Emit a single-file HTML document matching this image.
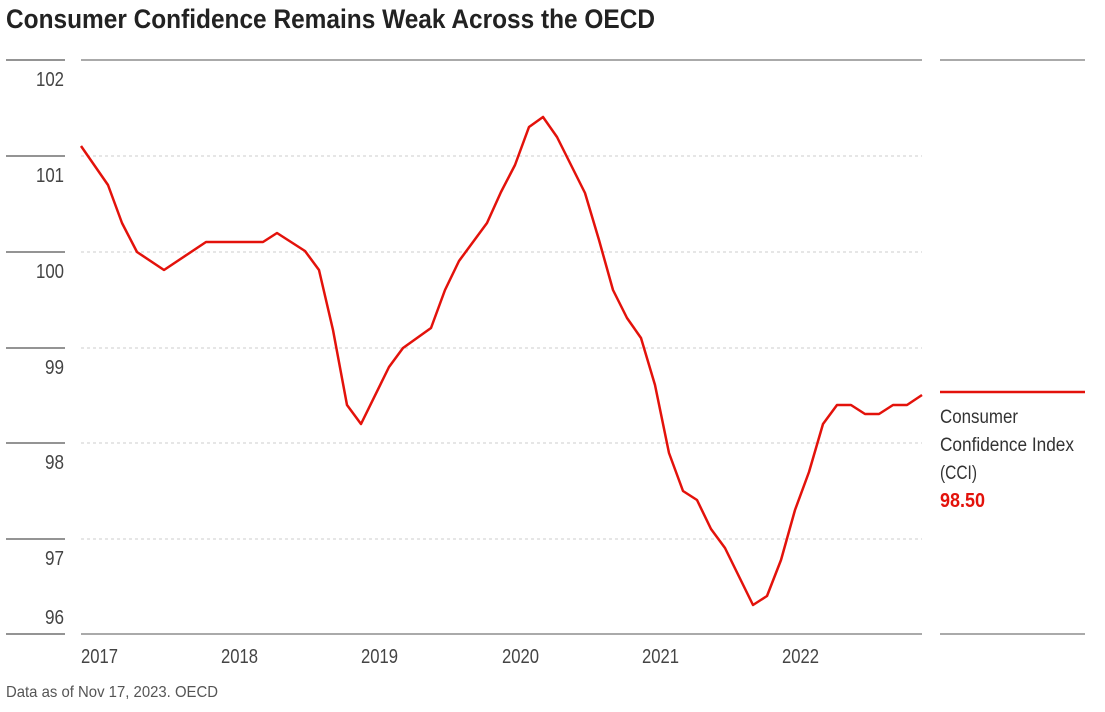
<!DOCTYPE html>
<html><head><meta charset="utf-8"><style>
body{margin:0;width:1105px;height:707px;background:#fff;overflow:hidden;font-family:"Liberation Sans",sans-serif;color:#333}
svg text{font-family:"Liberation Sans",sans-serif}
</style></head><body>
<svg width="1105" height="707" viewBox="0 0 1105 707">
<text x="6" y="28" font-size="27" font-weight="bold" fill="#222" textLength="649" lengthAdjust="spacingAndGlyphs">Consumer Confidence Remains Weak Across the OECD</text>
<g stroke="#555" stroke-width="1.2">
<line x1="6" y1="60" x2="65" y2="60"/><line x1="6" y1="156" x2="65" y2="156"/><line x1="6" y1="252" x2="65" y2="252"/>
<line x1="6" y1="348" x2="65" y2="348"/><line x1="6" y1="443" x2="65" y2="443"/><line x1="6" y1="539" x2="65" y2="539"/><line x1="6" y1="634" x2="65" y2="634"/>
<line x1="81" y1="60" x2="922" y2="60" stroke="#777"/><line x1="81" y1="634" x2="922" y2="634" stroke="#777"/>
<line x1="940" y1="60" x2="1085" y2="60" stroke="#777"/><line x1="940" y1="634" x2="1085" y2="634" stroke="#777"/>
</g>
<g stroke="#ccc" stroke-width="1" stroke-dasharray="3,3">
<line x1="81" y1="156" x2="922" y2="156"/><line x1="81" y1="252" x2="922" y2="252"/><line x1="81" y1="348" x2="922" y2="348"/><line x1="81" y1="443" x2="922" y2="443"/><line x1="81" y1="539" x2="922" y2="539"/>
</g>
<g font-size="20" fill="#444" text-anchor="end">
<text x="64" y="86" textLength="28" lengthAdjust="spacingAndGlyphs">102</text><text x="64" y="182" textLength="28" lengthAdjust="spacingAndGlyphs">101</text><text x="64" y="278" textLength="28" lengthAdjust="spacingAndGlyphs">100</text><text x="64" y="374" textLength="19" lengthAdjust="spacingAndGlyphs">99</text><text x="64" y="469" textLength="19" lengthAdjust="spacingAndGlyphs">98</text><text x="64" y="565" textLength="19" lengthAdjust="spacingAndGlyphs">97</text><text x="64" y="624" textLength="19" lengthAdjust="spacingAndGlyphs">96</text>
</g>
<g font-size="20" fill="#444">
<text x="81" y="663" textLength="37" lengthAdjust="spacingAndGlyphs">2017</text><text x="221" y="663" textLength="37" lengthAdjust="spacingAndGlyphs">2018</text><text x="361" y="663" textLength="37" lengthAdjust="spacingAndGlyphs">2019</text><text x="502" y="663" textLength="37" lengthAdjust="spacingAndGlyphs">2020</text><text x="642" y="663" textLength="37" lengthAdjust="spacingAndGlyphs">2021</text><text x="782" y="663" textLength="37" lengthAdjust="spacingAndGlyphs">2022</text>
</g>
<text x="6" y="697" font-size="16" fill="#555" textLength="212" lengthAdjust="spacingAndGlyphs">Data as of Nov 17, 2023. OECD</text>
<polyline fill="none" stroke="#e3120b" stroke-width="2.5" stroke-linejoin="round" points="81,146 108,185 122,223 137,252 164,270 206,242 263,242 277,233 305,251 319,270 333,330 347,405 361,424 389,367 403,348 431,328 445,290 459,261 487,223 501,192 515,165 529,127 543,117 557,137 585,193 599,240 613,290 627,318 641,338 655,385 669,453 683,491 697,500 711,529 725,548 753,605 767,596 781,560 795,510 809,472 823,424 837,405 851,405 865,414 879,414 893,405 907,405 922,395"/>
<line x1="940" y1="392" x2="1085" y2="392" stroke="#e3120b" stroke-width="2.5"/>
<g font-size="19" fill="#333">
<text x="940" y="423" textLength="78" lengthAdjust="spacingAndGlyphs">Consumer</text><text x="940" y="451" textLength="134" lengthAdjust="spacingAndGlyphs">Confidence Index</text><text x="940" y="479" textLength="37" lengthAdjust="spacingAndGlyphs">(CCI)</text>
</g>
<text x="940" y="507" font-size="20" font-weight="bold" fill="#e3120b" textLength="45" lengthAdjust="spacingAndGlyphs">98.50</text>
</svg>
</body></html>
